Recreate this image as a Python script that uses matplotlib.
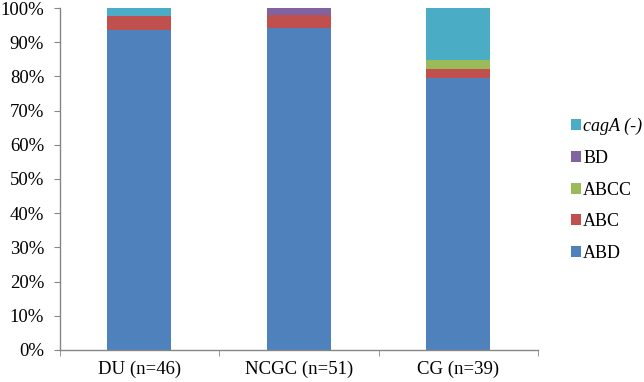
import matplotlib.pyplot as plt
import numpy as np
from matplotlib.ticker import PercentFormatter, FixedLocator

groups = ["DU (n=46)", "NCGC (n=51)", "CG (n=39)"]
# percent of isolates per cagA EPIYA type
abd = [93.5, 94.1, 79.5]
abc = [4.3, 3.9, 2.6]
abcc = [0.0, 0.0, 2.6]
bd = [0.0, 2.0, 0.0]
caga_neg = [2.2, 0.0, 15.3]

series = [("ABD", abd, "#4F81BD"),
          ("ABC", abc, "#C0504D"),
          ("ABCC", abcc, "#9BBB59"),
          ("BD", bd, "#8064A2"),
          ("cagA (-)", caga_neg, "#4BACC6")]

plt.rcParams["font.family"] = ["Liberation Serif", "DejaVu Serif"]

fig = plt.figure(figsize=(6.44, 3.82), dpi=100)
ax = fig.add_axes([0.0924, 0.084, 0.743, 0.895])

x = np.arange(len(groups))
bottom = np.zeros(len(groups))
for name, vals, col in series:
    ax.bar(x, vals, width=0.4, bottom=bottom, color=col, label=name)
    bottom += np.array(vals)

ax.set_xlim(-0.5, 2.5)
ax.set_ylim(0, 100)
ax.set_yticks(np.arange(0, 101, 10))
ax.yaxis.set_major_formatter(PercentFormatter(decimals=0))
ax.set_xticks(x)
ax.set_xticklabels(groups)
ax.xaxis.set_minor_locator(FixedLocator([-0.5, 0.5, 1.5, 2.5]))

for s in ["top", "right"]:
    ax.spines[s].set_visible(False)
for s in ["left", "bottom"]:
    ax.spines[s].set_color("#868686")
    ax.spines[s].set_linewidth(1.0)

ax.tick_params(axis="y", length=4, color="#868686", labelsize=13.5, pad=7)
ax.tick_params(axis="x", which="major", length=0, labelsize=13.5, pad=8)
ax.tick_params(axis="x", which="minor", length=4, color="#868686")

h, l = ax.get_legend_handles_labels()
leg = fig.legend(h[::-1], l[::-1], loc="center left",
                 bbox_to_anchor=(0.886, 0.503), frameon=False, fontsize=13,
                 handlelength=0.55, handleheight=0.55, handletextpad=0.15,
                 labelspacing=0.82, borderaxespad=0, borderpad=0)
leg.get_texts()[0].set_fontstyle("italic")

fig.savefig("out.png", dpi=100)
